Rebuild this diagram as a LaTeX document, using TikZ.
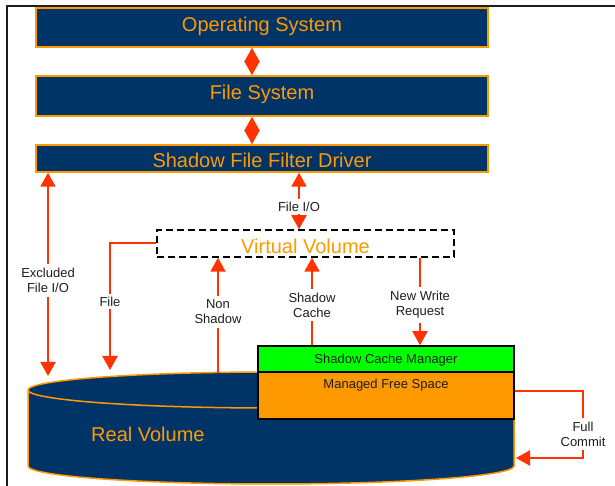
\documentclass[tikz,border=0pt]{standalone}
\usepackage{fontspec}
\setmainfont{Liberation Sans}
\usetikzlibrary{arrows.meta,positioning}
\definecolor{navy}{HTML}{003366}
\definecolor{amber}{HTML}{FF9900}
\definecolor{arrowred}{HTML}{FF3300}
\definecolor{lime}{HTML}{00FF00}
\definecolor{ink}{HTML}{1E1E1E}

\begin{document}
\begin{tikzpicture}[x=1pt,y=1pt,
  node distance=27.5pt,
  layer/.style={draw=amber,line width=1.5pt,fill=navy,text=amber,minimum width=452pt,inner sep=0pt,font=\fontsize{20}{24}\selectfont},
  vbox/.style={draw=black,line width=1.5pt,dash pattern=on 7pt off 4pt,text=amber,minimum width=297pt,minimum height=27pt,inner sep=0pt,font=\fontsize{20}{24}\selectfont},
  part/.style={draw=black,line width=1.5pt,text=ink,minimum width=256pt,inner sep=0pt,font=\fontsize{13}{15}\selectfont},
  lbl/.style={fill=white,text=ink,align=center,inner xsep=2pt,inner ysep=4pt,font=\fontsize{13}{15}\selectfont},
  arr/.style={-{Triangle[length=14pt,width=15pt]},line width=2pt,draw=arrowred},
  biarr/.style={{Triangle[length=14pt,width=15pt]}-{Triangle[length=14pt,width=15pt]},line width=2pt,draw=arrowred}
]
\useasboundingbox (0,0) rectangle (615,486);
\draw[line width=1.5pt,ink] (7,0) -- (7,480) -- (615,480);

% driver stack
\node[layer,minimum height=39pt,text height=14.5pt,text depth=6.5pt] (os) at (262,458.5) {Operating System};
\node[layer,minimum height=40pt,text height=14.5pt,text depth=6.5pt,below=of os] (fs) {File System};
\node[layer,minimum height=27pt,text height=19pt,text depth=0pt,below=of fs] (sffd) {Shadow File Filter Driver};
\node[vbox,text height=19.5pt,text depth=0pt] (vv) at (305.5,242.5) {Virtual Volume};

% real volume
\draw[draw=amber,line width=1.5pt,fill=navy] (28,96) -- (28,20)
  arc[start angle=180,end angle=360,x radius=243,y radius=18] -- (514,96)
  arc[start angle=0,end angle=180,x radius=243,y radius=18] -- cycle;
\draw[draw=amber,line width=1.5pt] (28,96) arc[start angle=180,end angle=360,x radius=243,y radius=18];
\node[text=amber,anchor=base west,inner sep=0pt,font=\fontsize{20}{24}\selectfont] (rv) at (91,44.3) {Real Volume};

\node[part,fill=lime,minimum height=26pt,text height=10pt,text depth=0pt] (scm) at (386,127) {Shadow Cache Manager};
\node[part,fill=amber,minimum height=47pt,text height=10pt,text depth=24pt] (mfs) at (386,90.5) {Managed Free Space};

\coordinate (exend) at (48,110);
\coordinate (fileend) at (110,116);
\coordinate (nsstart) at (218,113);
\coordinate (fc) at (583,28);
\coordinate (fcend) at (516,28);

\draw[biarr] (os.south -| 252,0) -- (fs.north -| 252,0);
\draw[biarr] (fs.south -| 252,0) -- (sffd.north -| 252,0);
\draw[biarr] (sffd.south -| 48,0) -- node[lbl,pos=0.53]{Excluded\\File I/O} (exend);
\draw[biarr] (sffd.south -| 299,0) -- node[lbl,pos=0.6,inner ysep=3pt]{File I/O} (vv.north -| 299,0);
\draw[arr] (vv.west) -| node[lbl,pos=0.73,inner ysep=3pt]{File} (fileend);
\draw[arr] (nsstart) -- node[lbl,pos=0.53]{Non\\Shadow} (vv.south -| 218,0);
\draw[arr] (scm.north -| 312,0) -- node[lbl,pos=0.46]{Shadow\\Cache} (vv.south -| 312,0);
\draw[arr] (vv.south -| 420,0) -- node[lbl,pos=0.54]{New Write\\Request} (scm.north -| 420,0);
\draw[arr] (mfs.east |- 0,95) -| node[lbl,pos=0.82]{Full\\Commit} (fc) -- (fcend);
\end{tikzpicture}
\end{document}
